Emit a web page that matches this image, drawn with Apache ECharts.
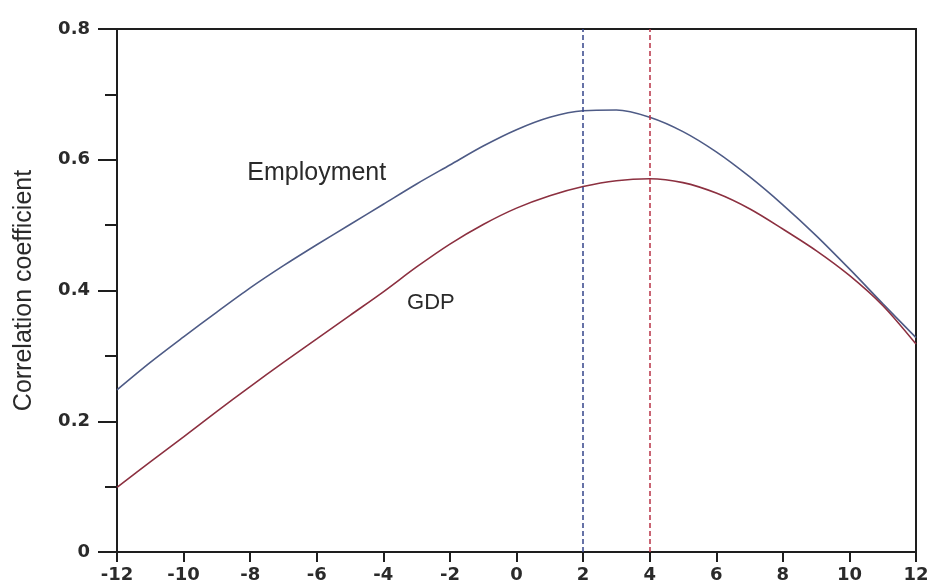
<!DOCTYPE html>
<html>
<head>
<meta charset="utf-8">
<script src="https://cdn.jsdelivr.net/npm/echarts@6/dist/echarts.min.js"></script>
<style>
  html, body { margin: 0; padding: 0; background: #fff; }
  #chart { width: 928px; height: 585px; }
</style>
</head>
<body>
<div id="chart"></div>
<script>
// Lead/lag (quarters) and correlation coefficients
const lags = [-12, -11, -10, -9, -8, -7, -6, -5, -4, -3, -2, -1, 0, 1, 2, 3, 4, 5, 6, 7, 8, 9, 10, 11, 12];
const employment = [0.248, 0.290, 0.329, 0.367, 0.404, 0.438, 0.470, 0.501, 0.532, 0.563, 0.592, 0.621, 0.646, 0.665, 0.675, 0.676, 0.665, 0.643, 0.612, 0.574, 0.531, 0.484, 0.433, 0.380, 0.328];
const gdp = [0.099, 0.138, 0.176, 0.215, 0.253, 0.290, 0.326, 0.362, 0.398, 0.436, 0.471, 0.501, 0.526, 0.545, 0.559, 0.568, 0.571, 0.565, 0.549, 0.525, 0.494, 0.461, 0.423, 0.377, 0.318];
const employmentPeak = 2;
const gdpPeak = 4;
const seriesNames = ['Employment', 'GDP'];
const yTitle = 'Correlation coefficient';

const pairs = (ys) => lags.map((x, i) => [x, ys[i]]);

const axisColor = '#1e1e1e';
const textColor = '#2a2a2a';
const font = 'Liberation Sans';
const tickFont = 'DejaVu Sans';

const chart = echarts.init(document.getElementById('chart'), null, { renderer: 'canvas' });
chart.setOption({
  animation: false,
  backgroundColor: '#fff',
  grid: {
    left: 117, right: 12, top: 29, bottom: 33,
    outerBoundsMode: 'none', containLabel: false,
    show: true, borderColor: axisColor, borderWidth: 2, backgroundColor: 'transparent'
  },
  xAxis: {
    type: 'value', min: -12, max: 12, interval: 2,
    axisLine: { onZero: false, lineStyle: { color: axisColor, width: 2 } },
    axisTick: { inside: false, length: 10, lineStyle: { color: axisColor, width: 2 } },
    axisLabel: { color: textColor, fontFamily: tickFont, fontSize: 18, fontWeight: 'bold', margin: 14 },
    splitLine: { show: false }
  },
  yAxis: {
    type: 'value', min: 0, max: 0.8, interval: 0.2,
    name: yTitle, nameLocation: 'middle', nameGap: 80,
    nameTextStyle: { color: textColor, fontFamily: font, fontSize: 25 },
    axisLine: { show: true, onZero: false, lineStyle: { color: axisColor, width: 2 } },
    axisTick: { inside: false, length: 19, lineStyle: { color: axisColor, width: 2 } },
    minorTick: { show: true, splitNumber: 2, length: 12, lineStyle: { color: axisColor, width: 2 } },
    axisLabel: { color: textColor, fontFamily: tickFont, fontSize: 18, fontWeight: 'bold', margin: 27 },
    splitLine: { show: false }
  },
  series: [
    {
      name: seriesNames[0], type: 'line', data: pairs(employment),
      smooth: 0.3, symbol: 'none',
      lineStyle: { color: '#4e5b86', width: 1.6 },
      markLine: {
        silent: true, symbol: 'none', label: { show: false },
        lineStyle: { color: '#34448a', type: [5, 3], width: 1.5 },
        data: [{ xAxis: employmentPeak }]
      },
      markPoint: {
        symbol: 'circle', symbolSize: 0,
        label: { show: true, formatter: seriesNames[0], color: textColor, fontFamily: font, fontSize: 25 },
        data: [{ coord: [-6.0, 0.58] }]
      }
    },
    {
      name: seriesNames[1], type: 'line', data: pairs(gdp),
      smooth: 0.3, symbol: 'none',
      lineStyle: { color: '#8c3040', width: 1.6 },
      markLine: {
        silent: true, symbol: 'none', label: { show: false },
        lineStyle: { color: '#b83245', type: [5, 3], width: 1.5 },
        data: [{ xAxis: gdpPeak }]
      },
      markPoint: {
        symbol: 'circle', symbolSize: 0,
        label: { show: true, formatter: seriesNames[1], color: textColor, fontFamily: font, fontSize: 22 },
        data: [{ coord: [-2.57, 0.381] }]
      }
    }
  ]
});
</script>
</body>
</html>
